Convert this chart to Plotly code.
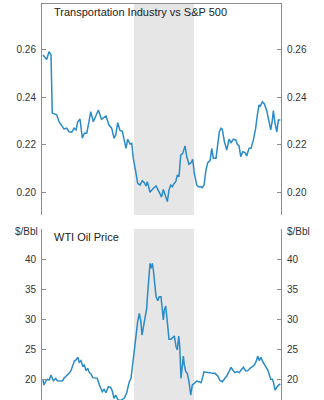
import plotly.graph_objects as go

# ---------------- data ----------------
transport_t = [1989.489, 1989.530, 1989.556, 1989.578, 1989.592, 1989.615, 1989.641, 1989.667, 1989.697, 1989.722,
               1989.752, 1989.778, 1989.808, 1989.834, 1989.856, 1989.875, 1989.900, 1989.926, 1989.948, 1989.975,
               1990.000, 1990.019, 1990.048, 1990.078, 1990.104, 1990.139, 1990.189, 1990.222, 1990.252, 1990.278,
               1990.297, 1990.319, 1990.345, 1990.370, 1990.392, 1990.411, 1990.430, 1990.456, 1990.475, 1990.492,
               1990.519, 1990.541, 1990.567, 1990.592, 1990.615, 1990.634, 1990.648, 1990.678, 1990.715, 1990.745,
               1990.778, 1990.806, 1990.826, 1990.852, 1990.870, 1990.889, 1990.908, 1990.926, 1990.945, 1990.964,
               1990.981, 1991.000, 1991.019, 1991.041, 1991.067, 1991.086, 1991.111, 1991.134, 1991.152, 1991.170,
               1991.197, 1991.215, 1991.241, 1991.259, 1991.278, 1991.300, 1991.319, 1991.345, 1991.364, 1991.381,
               1991.411, 1991.426, 1991.448, 1991.467, 1991.481, 1991.504, 1991.530, 1991.556, 1991.578, 1991.604,
               1991.630, 1991.648, 1991.667, 1991.686, 1991.708, 1991.734, 1991.752, 1991.778, 1991.800, 1991.826,
               1991.852, 1991.870, 1991.889, 1991.900, 1991.926, 1991.948, 1991.975, 1992.000, 1992.019, 1992.037,
               1992.048, 1992.067, 1992.086, 1992.104, 1992.126]
transport_ratio = [0.2575, 0.2556, 0.2589, 0.2575, 0.2333, 0.2329, 0.2326, 0.2297, 0.2279, 0.2267,
                   0.2270, 0.2255, 0.2253, 0.2270, 0.2263, 0.2297, 0.2308, 0.2228, 0.2249, 0.2249,
                   0.2297, 0.2339, 0.2297, 0.2325, 0.2346, 0.2307, 0.2321, 0.2283, 0.2270, 0.2228,
                   0.2242, 0.2293, 0.2260, 0.2258, 0.2214, 0.2186, 0.2224, 0.2204, 0.2207, 0.2145,
                   0.2089, 0.2040, 0.2033, 0.2051, 0.2043, 0.2029, 0.2047, 0.2003, 0.2020, 0.2029,
                   0.2005, 0.1983, 0.2015, 0.1985, 0.1964, 0.2013, 0.2033, 0.2026, 0.2040, 0.2047,
                   0.2075, 0.2068, 0.2158, 0.2165, 0.2196, 0.2151, 0.2120, 0.2126, 0.2140, 0.2082,
                   0.2033, 0.2026, 0.2026, 0.2022, 0.2033, 0.2096, 0.2126, 0.2135, 0.2186, 0.2145,
                   0.2145, 0.2190, 0.2255, 0.2270, 0.2265, 0.2214, 0.2179, 0.2224, 0.2210, 0.2224,
                   0.2221, 0.2203, 0.2196, 0.2151, 0.2172, 0.2168, 0.2154, 0.2186, 0.2186, 0.2221,
                   0.2270, 0.2325, 0.2367, 0.2360, 0.2380, 0.2371, 0.2343, 0.2297, 0.2263, 0.2304,
                   0.2343, 0.2290, 0.2255, 0.2304, 0.2304]

oil_t = [1989.489, 1989.500, 1989.522, 1989.541, 1989.559, 1989.578, 1989.604, 1989.630, 1989.648, 1989.678,
         1989.704, 1989.722, 1989.752, 1989.778, 1989.800, 1989.819, 1989.837, 1989.856, 1989.875, 1989.892,
         1989.911, 1989.930, 1989.948, 1989.967, 1989.986, 1990.004, 1990.022, 1990.041, 1990.067, 1990.092,
         1990.115, 1990.148, 1990.167, 1990.189, 1990.215, 1990.241, 1990.259, 1990.278, 1990.297, 1990.319,
         1990.345, 1990.367, 1990.392, 1990.419, 1990.448, 1990.467, 1990.486, 1990.504, 1990.522, 1990.541,
         1990.559, 1990.575, 1990.589, 1990.604, 1990.622, 1990.641, 1990.652, 1990.664, 1990.678, 1990.689,
         1990.704, 1990.715, 1990.734, 1990.745, 1990.764, 1990.781, 1990.800, 1990.811, 1990.826, 1990.837,
         1990.852, 1990.870, 1990.889, 1990.911, 1990.930, 1990.948, 1990.967, 1990.981, 1990.997, 1991.008,
         1991.022, 1991.037, 1991.048, 1991.059, 1991.075, 1991.092, 1991.111, 1991.130, 1991.148, 1991.170,
         1991.197, 1991.222, 1991.245, 1991.259, 1991.278, 1991.297, 1991.319, 1991.345, 1991.370, 1991.400,
         1991.430, 1991.456, 1991.481, 1991.504, 1991.530, 1991.556, 1991.578, 1991.597, 1991.622, 1991.648,
         1991.670, 1991.689, 1991.715, 1991.741, 1991.764, 1991.789, 1991.815, 1991.837, 1991.856, 1991.875,
         1991.892, 1991.911, 1991.930, 1991.948, 1991.967, 1991.986, 1992.004, 1992.019, 1992.037, 1992.048,
         1992.067, 1992.086, 1992.104, 1992.126]
oil_price = [19.83, 19.00, 19.72, 19.94, 19.83, 20.67, 19.72, 20.11, 19.72, 19.72,
             19.67, 20.11, 20.50, 20.94, 21.39, 22.33, 23.00, 23.17, 23.61, 22.78,
             23.06, 22.17, 22.33, 21.39, 21.78, 21.06, 20.83, 20.22, 20.11, 20.11,
             19.00, 17.89, 18.28, 17.72, 18.72, 18.61, 18.00, 16.78, 17.33, 16.61,
             16.40, 16.60, 16.78, 17.72, 19.55, 20.11, 22.61, 25.39, 27.61, 29.55,
             30.94, 29.72, 27.33, 28.61, 29.83, 31.78, 34.28, 37.33, 39.28, 38.44,
             39.28, 38.17, 35.39, 33.72, 33.06, 33.72, 33.72, 32.33, 29.83, 31.50,
             32.17, 29.55, 26.61, 26.61, 26.94, 27.17, 25.39, 24.83, 27.17, 25.39,
             20.11, 22.33, 23.83, 22.33, 21.22, 20.94, 19.55, 17.33, 19.00, 19.28,
             19.67, 19.55, 19.39, 20.11, 21.22, 21.11, 21.11, 21.06, 20.94, 20.94,
             20.50, 19.72, 19.55, 20.00, 20.50, 21.22, 21.94, 21.50, 21.06, 21.22,
             21.06, 21.50, 21.94, 21.33, 21.39, 21.78, 22.06, 22.33, 22.89, 23.83,
             23.06, 23.61, 22.89, 22.50, 21.94, 21.50, 20.67, 19.94, 19.94, 19.55,
             18.17, 18.61, 19.00, 19.17]

recession = ["1990.5", "1991.167"]  # Jul 1990 - Mar 1991
ratio_ticks = [0.20, 0.22, 0.24, 0.26]
oil_ticks = [20, 25, 30, 35, 40]

# ---------------- figure ----------------
LINE = "#2a8bc8"
AXC = "#8c8c8c"
TXT = "#333333"
FONT = "Liberation Sans, Arial, sans-serif"
x_range = [1989.478, 1992.133]

fig = go.Figure()
fig.add_trace(go.Scatter(x=transport_t, y=transport_ratio, mode="lines",
                         line=dict(color=LINE, width=1.5), xaxis="x", yaxis="y", showlegend=False))
fig.add_trace(go.Scatter(x=transport_t, y=transport_ratio, mode="lines", opacity=0,
                         hoverinfo="skip", xaxis="x", yaxis="y3", showlegend=False))
fig.add_trace(go.Scatter(x=oil_t, y=oil_price, mode="lines",
                         line=dict(color=LINE, width=1.5), xaxis="x2", yaxis="y2", showlegend=False))
fig.add_trace(go.Scatter(x=oil_t, y=oil_price, mode="lines", opacity=0,
                         hoverinfo="skip", xaxis="x2", yaxis="y4", showlegend=False))

r0, r1 = float(recession[0]), float(recession[1])
for yref in ["y domain", "y2 domain"]:
    fig.add_shape(type="rect", xref="x" if yref.startswith("y ") else "x2", yref=yref,
                  x0=r0, x1=r1, y0=0, y1=1, fillcolor="#e6e6e6", line_width=0, layer="below")

top_dom = [185 / 396, 1]
bot_dom = [0, 171 / 396]

yax_common = dict(showline=True, linecolor=AXC, linewidth=1, ticks="inside", ticklen=4,
                  tickcolor=AXC, showgrid=False, zeroline=False,
                  tickfont=dict(family=FONT, size=10, color=TXT), ticklabelstandoff=3)

fig.update_layout(
    width=324, height=400,
    margin=dict(l=42, r=43, t=4, b=0),
    paper_bgcolor="white", plot_bgcolor="white",
    font=dict(family=FONT, color=TXT),
    xaxis=dict(domain=[0, 1], range=x_range, anchor="y", side="top", showline=True, linecolor=AXC,
               showticklabels=False, ticks="", showgrid=False, zeroline=False),
    xaxis2=dict(domain=[0, 1], range=x_range, anchor="y2", showline=False,
                showticklabels=False, ticks="", showgrid=False, zeroline=False),
    yaxis=dict(domain=top_dom, range=[0.19083, 0.27875], tickvals=ratio_ticks,
               ticktext=[f"{v:.2f}" for v in ratio_ticks], anchor="x", side="left", **yax_common),
    yaxis3=dict(range=[0.19083, 0.27875], tickvals=ratio_ticks,
                ticktext=[f"{v:.2f}" for v in ratio_ticks], anchor="x", overlaying="y",
                side="right", **yax_common),
    yaxis2=dict(domain=bot_dom, range=[16.5, 45], tickvals=oil_ticks,
                anchor="x2", side="left", **yax_common),
    yaxis4=dict(range=[16.5, 45], tickvals=oil_ticks, anchor="x2", overlaying="y2",
                side="right", **yax_common),
)

fig.add_annotation(text="Transportation Industry vs S&P 500", xref="paper", yref="paper",
                   x=10 / 239, y=(400 - 12) / 396, xanchor="left", yanchor="middle",
                   showarrow=False, font=dict(family=FONT, size=11, color="#222222"))
fig.add_annotation(text="WTI Oil Price", xref="paper", yref="paper",
                   x=10 / 239, y=(400 - 237) / 396, xanchor="left", yanchor="middle",
                   showarrow=False, font=dict(family=FONT, size=11, color="#222222"))
fig.add_annotation(text="$/Bbl", xref="paper", yref="paper",
                   x=-2 / 239, y=(400 - 232) / 396, xanchor="right", yanchor="middle",
                   showarrow=False, font=dict(family=FONT, size=10, color=TXT))
fig.add_annotation(text="$/Bbl", xref="paper", yref="paper",
                   x=1 + 4 / 239, y=(400 - 231) / 396, xanchor="left", yanchor="middle",
                   showarrow=False, font=dict(family=FONT, size=10, color=TXT))

fig.write_html("out.html")
